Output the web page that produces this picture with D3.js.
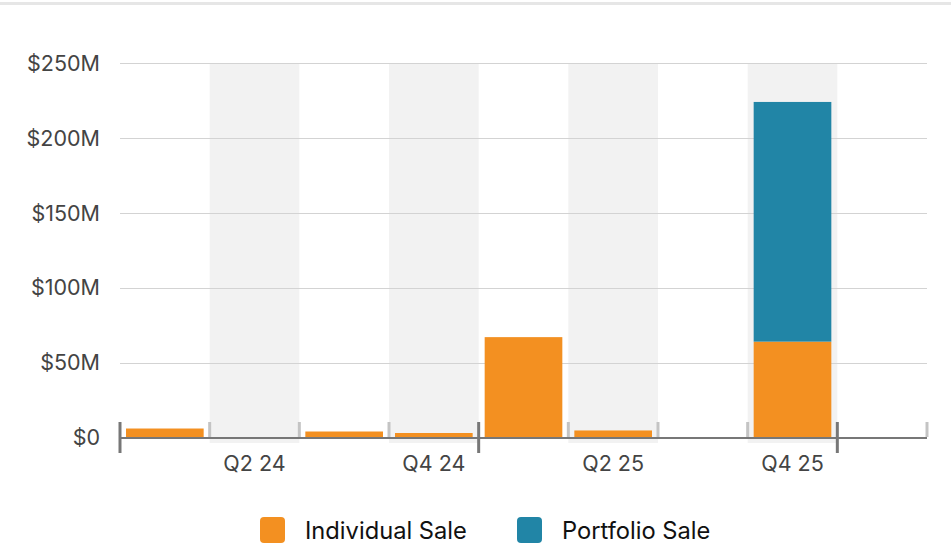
<!DOCTYPE html>
<html><head><meta charset="utf-8">
<script src="https://cdn.jsdelivr.net/npm/d3@7"></script>
<style>body{margin:0;background:#fff}svg{display:block}</style>
</head><body>
<svg id="c" width="951" height="560"></svg>
<script>
const quarters = ["Q1 24","Q2 24","Q3 24","Q4 24","Q1 25","Q2 25","Q3 25","Q4 25","Q1 26"];
const individualSale = [6, 0, 4, 3, 67, 4.7, 0, 64, 0];
const portfolioSale = [0, 0, 0, 0, 0, 0, 0, 160, 0];
const labeledQuarters = ["Q2 24","Q4 24","Q2 25","Q4 25"];
const yTicks = [0, 50, 100, 150, 200, 250];
const seriesNames = ["Individual Sale","Portfolio Sale"];
const colors = ["#f39021","#2185a6"];

const svg = d3.select("#c");
const font = "Inter, 'Noto Sans', sans-serif";
const L = 120, R = 927, T = 63, B = 437.5;

svg.append("rect").attr("x",0).attr("y",2).attr("width",951).attr("height",3).attr("fill","#e6e6e6");

const x = d3.scaleBand().domain(quarters).range([L, R]).paddingInner(0).paddingOuter(0);
const y = d3.scaleLinear().domain([0, 250]).range([B, T]);

// alternating bands
svg.append("g").selectAll("rect").data(quarters.filter((q,i)=>i%2===1)).join("rect")
  .attr("x", d=>x(d)).attr("width", x.bandwidth())
  .attr("y", T).attr("height", 443 - T).attr("fill", "#f2f2f2");

// gridlines
svg.append("g").selectAll("line").data(yTicks.filter(d=>d>0)).join("line")
  .attr("x1", L).attr("x2", R).attr("y1", d=>Math.round(y(d))+0.5).attr("y2", d=>Math.round(y(d))+0.5)
  .attr("stroke", "#d3d3d3").attr("stroke-width", 1);

// y labels
svg.append("g").selectAll("text").data(yTicks).join("text")
  .attr("x", 100).attr("y", d=>y(d)).attr("dy","0.36em").attr("text-anchor","end")
  .attr("font-family", font).attr("font-size", 21.5).attr("fill", "#444")
  .text(d=>"$"+d+(d>0?"M":""));

// stacked bars
const rows = quarters.map((q,i)=>({q, "Individual Sale": individualSale[i], "Portfolio Sale": portfolioSale[i]}));
const stack = d3.stack().keys(seriesNames)(rows);
const pad = 6;
svg.append("g").selectAll("g").data(stack).join("g").attr("fill",(d,i)=>colors[i])
  .selectAll("rect").data(d=>d.filter(s=>s[1]-s[0]>0)).join("rect")
  .attr("x", d=>x(d.data.q)+pad).attr("width", x.bandwidth()-2*pad)
  .attr("y", d=>y(d[1])).attr("height", d=>y(d[0])-y(d[1]));

// axis line
svg.append("line").attr("x1",L).attr("x2",R).attr("y1",438).attr("y2",438)
  .attr("stroke","#777").attr("stroke-width",2);

// ticks at band boundaries
const bounds = quarters.map(q=>x(q)).concat([R]);
svg.append("g").selectAll("line").data(bounds).join("line")
  .attr("x1", d=>d).attr("x2", d=>d)
  .attr("y1", 422)
  .attr("y2", (d,i)=> (i<quarters.length && quarters[i].startsWith("Q1")) ? 453 : 437)
  .attr("stroke", (d,i)=> (i<quarters.length && quarters[i].startsWith("Q1")) ? "#777" : "#c4c4c4")
  .attr("stroke-width", 3);

// x labels
svg.append("g").selectAll("text").data(labeledQuarters).join("text")
  .attr("x", d=>x(d)+x.bandwidth()/2).attr("y", 471).attr("text-anchor","middle")
  .attr("font-family", font).attr("font-size", 21.5).attr("fill", "#444").text(d=>d);

// legend
const lg = svg.append("g").selectAll("g").data(seriesNames).join("g")
  .attr("transform",(d,i)=>`translate(${i===0?260:517},517)`);
lg.append("rect").attr("width",25).attr("height",26).attr("rx",4).attr("fill",(d,i)=>colors[i]);
lg.append("text").attr("x",45).attr("y",22).attr("font-family",font).attr("font-size",23.7)
  .attr("fill","#111").text(d=>d);
</script>
</body></html>
